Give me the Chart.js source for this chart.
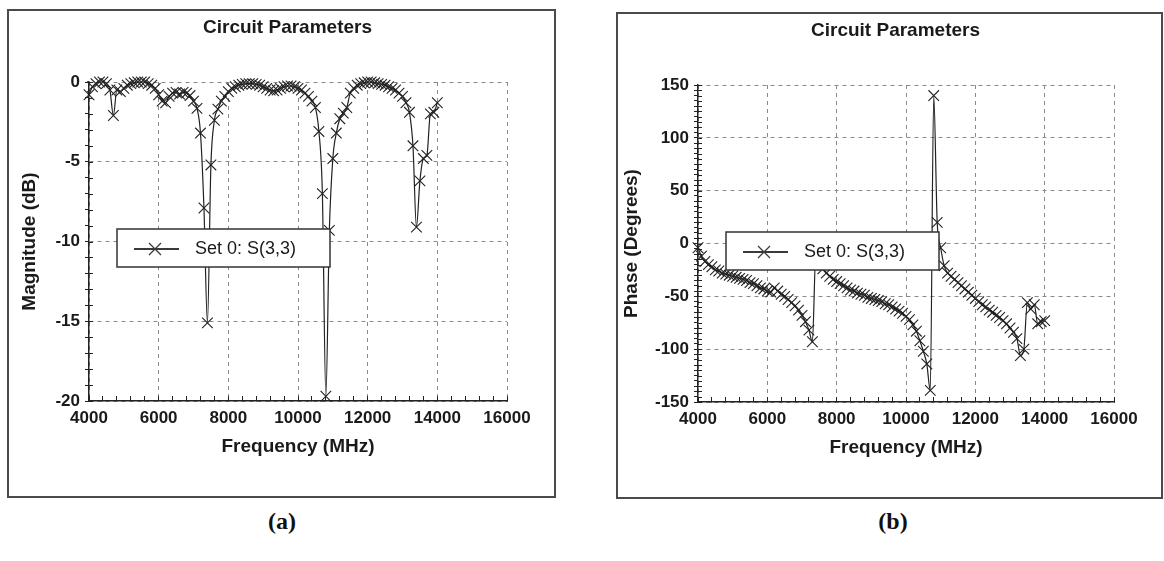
<!DOCTYPE html>
<html>
<head>
<meta charset="utf-8">
<script src="https://cdn.jsdelivr.net/npm/chart.js@4.4.1/dist/chart.umd.min.js"></script>
<style>
  body { margin: 0; background: #fff; width: 1164px; height: 561px; position: relative; overflow: hidden; }
  .panel { position: absolute; border: 2px solid #4a4a4a; background: #fff; }
  #pa { left: 7px; top: 9px; width: 545px; height: 485px; }
  #pb { left: 616px; top: 12px; width: 543px; height: 483px; }
  .cap { position: absolute; top: 508px; font: bold 24px "Liberation Serif", "Times New Roman", serif; color: #111; transform: translateX(-50%); }
</style>
</head>
<body>
<div class="panel" id="pa"><canvas id="magChart" width="545" height="485"></canvas></div>
<div class="panel" id="pb"><canvas id="phaseChart" width="543" height="483"></canvas></div>
<div class="cap" style="left:282px">(a)</div>
<div class="cap" style="left:893px">(b)</div>
<script>
// frequency sweep (MHz)
const freqs = [
  4000, 4100, 4200, 4300, 4400, 4500, 4600, 4700, 4800, 4900,
  5000, 5100, 5200, 5300, 5400, 5500, 5600, 5700, 5800, 5900,
  6000, 6100, 6200, 6300, 6400, 6500, 6600, 6700, 6800, 6900,
  7000, 7100, 7200, 7300, 7400, 7500, 7600, 7700, 7800, 7900,
  8000, 8100, 8200, 8300, 8400, 8500, 8600, 8700, 8800, 8900,
  9000, 9100, 9200, 9300, 9400, 9500, 9600, 9700, 9800, 9900,
  10000, 10100, 10200, 10300, 10400, 10500, 10600, 10700, 10800, 10900,
  11000, 11100, 11200, 11300, 11400, 11500, 11600, 11700, 11800, 11900,
  12000, 12100, 12200, 12300, 12400, 12500, 12600, 12700, 12800, 12900,
  13000, 13100, 13200, 13300, 13400, 13500, 13600, 13700, 13800, 13900,
  14000
];

// S(3,3) magnitude (dB)
const magnitudeDb = [
  -0.8, -0.3, -0.1, 0.0, 0.0, -0.1, -0.5, -2.1, -0.5, -0.6,
  -0.4, -0.2, -0.1, -0.05, 0.0, 0.0, 0.0, -0.1, -0.2, -0.4,
  -0.8, -1.2, -1.3, -0.9, -0.7, -0.65, -0.75, -0.65, -0.7, -0.85,
  -1.2, -1.65, -3.2, -7.9, -15.1, -5.2, -2.4, -1.7, -1.2, -0.9,
  -0.6, -0.4, -0.3, -0.2, -0.15, -0.1, -0.1, -0.1, -0.15, -0.2,
  -0.3, -0.4, -0.5, -0.55, -0.5, -0.4, -0.3, -0.25, -0.25, -0.3,
  -0.4, -0.5, -0.7, -0.9, -1.2, -1.6, -3.1, -7.0, -19.7, -9.3,
  -4.8, -3.2, -2.3, -1.95, -1.6, -0.7, -0.4, -0.2, -0.1, -0.05,
  0.0, 0.0, -0.05, -0.1, -0.15, -0.2, -0.3, -0.4, -0.5, -0.7,
  -0.9, -1.3, -1.9, -4.0, -9.1, -6.2, -4.8, -4.6, -2.0, -1.9,
  -1.3
];

// S(3,3) phase (degrees)
const phaseDeg = [
  -4, -12, -17, -20, -22, -25, -26, -28, -29, -30,
  -31, -32, -33, -34, -35, -37, -38, -40, -42, -43,
  -45, -46, -42, -45, -48, -50, -53, -56, -59, -63,
  -68, -74, -82, -93, -8, -18, -24, -28, -31, -34,
  -36, -38, -40, -42, -44, -45, -47, -48, -49, -51,
  -52, -53, -54, -55, -57, -58, -60, -62, -64, -66,
  -69, -72, -77, -83, -92, -102, -114, -139, 140, 20,
  -4, -21, -28, -31, -34, -37, -40, -43, -46, -49,
  -52, -55, -58, -60, -63, -65, -68, -70, -73, -76,
  -80, -84, -90, -106, -100, -56, -62, -58, -76, -74,
  -73
];

const seriesLabel = 'Set 0: S(3,3)';
const chartTitle = 'Circuit Parameters';

Chart.defaults.font.family = '"Liberation Sans", Arial, sans-serif';
Chart.defaults.color = '#1a1a1a';

// panel title, centred a little right of the canvas middle as in the original
const panelTitle = {
  id: 'panelTitle',
  afterDraw(chart, args, opts) {
    const { ctx } = chart;
    ctx.save();
    ctx.fillStyle = '#1a1a1a';
    ctx.font = 'bold 19px "Liberation Sans", Arial, sans-serif';
    ctx.textAlign = 'center';
    ctx.textBaseline = 'middle';
    ctx.fillText(opts.text, chart.width / 2 + 6, opts.y);
    ctx.restore();
  }
};

// short tick marks on the inner side of the y axis (they cross the axis in the original)
const innerYTicks = {
  id: 'innerYTicks',
  afterDraw(chart) {
    const { ctx } = chart;
    const y = chart.scales.y;
    ctx.save();
    ctx.strokeStyle = '#222';
    ctx.lineWidth = 1;
    y.ticks.forEach(t => {
      const py = Math.round(y.getPixelForValue(t.value)) + 0.5;
      ctx.beginPath();
      ctx.moveTo(y.right, py);
      ctx.lineTo(y.right + 4, py);
      ctx.stroke();
    });
    ctx.restore();
  }
};

// legend box drawn inside the plot, like the original software
const legendBox = {
  id: 'legendBox',
  afterDatasetsDraw(chart, args, opts) {
    const { ctx, chartArea } = chart;
    const x = chartArea.left + opts.dx, y = chartArea.top + opts.dy;
    const w = 213, h = 38;
    ctx.save();
    ctx.fillStyle = '#fff';
    ctx.fillRect(x, y, w, h);
    ctx.strokeStyle = '#333';
    ctx.lineWidth = 1.5;
    ctx.strokeRect(x, y, w, h);
    ctx.strokeStyle = '#3a3a3a';
    ctx.lineWidth = 2;
    ctx.beginPath();
    ctx.moveTo(x + 17, y + 20);
    ctx.lineTo(x + 62, y + 20);
    ctx.stroke();
    const cx = x + 38, cy = y + 20, r = 6;
    ctx.lineWidth = 1.3;
    ctx.beginPath();
    ctx.moveTo(cx - r, cy - r); ctx.lineTo(cx + r, cy + r);
    ctx.moveTo(cx + r, cy - r); ctx.lineTo(cx - r, cy + r);
    ctx.stroke();
    ctx.fillStyle = '#1a1a1a';
    ctx.font = '18px "Liberation Sans", Arial, sans-serif';
    ctx.textBaseline = 'middle';
    ctx.fillText(chart.data.datasets[0].label, x + 78, y + 20);
    ctx.restore();
  }
};

function makeChart(id, ys, yTitle, yMin, yMax, yStep, yMajor, yTitlePad) {
  const points = freqs.map((f, i) => ({ x: f, y: ys[i] }));
  return new Chart(document.getElementById(id), {
    type: 'scatter',
    data: {
      datasets: [{
        label: seriesLabel,
        data: points,
        showLine: true,
        borderColor: '#222',
        borderWidth: 1.2,
        cubicInterpolationMode: 'monotone',
        pointStyle: 'crossRot',
        pointRadius: 7.5,
        pointBorderWidth: 1.1,
        pointBorderColor: '#222',
        pointBackgroundColor: '#222',
        clip: false
      }]
    },
    options: {
      responsive: false,
      animation: false,
      events: [],
      layout: { padding: { left: 0, right: 47, top: 71, bottom: 0 } },
      plugins: {
        legend: { display: false },
        tooltip: { enabled: false },
        title: { display: false },
        panelTitle: { text: chartTitle, y: 17 },
        legendBox: { dx: 28, dy: 147 }
      },
      scales: {
        x: {
          type: 'linear',
          min: 4000, max: 16000,
          afterFit: s => { s.height = 95; },
          ticks: {
            stepSize: 400,
            autoSkip: false,
            maxRotation: 0,
            padding: 12,
            color: '#1a1a1a',
            font: { size: 17, weight: 'bold' },
            callback: v => (v % 2000 === 0 ? String(v) : '')
          },
          grid: {
            color: c => (c.tick && c.tick.value % 2000 === 0 ? '#8a8a8a' : 'transparent'),
            tickColor: '#222',
            tickLength: -5,
            lineWidth: 1
          },
          border: { display: true, color: '#222', width: 1.5, dash: [4, 4] },
          title: {
            display: true,
            text: 'Frequency (MHz)',
            color: '#1a1a1a',
            font: { size: 19, weight: 'bold' },
            padding: { top: 0, bottom: 38 }
          }
        },
        y: {
          type: 'linear',
          min: yMin, max: yMax,
          afterFit: s => { s.width = 80; },
          ticks: {
            stepSize: yStep,
            autoSkip: false,
            padding: 5,
            color: '#1a1a1a',
            font: { size: 17, weight: 'bold' },
            callback: v => (v % yMajor === 0 ? String(v) : '')
          },
          grid: {
            color: c => (c.tick && c.tick.value % yMajor === 0 ? '#8a8a8a' : 'transparent'),
            tickColor: '#222',
            tickLength: 4,
            lineWidth: 1
          },
          border: { display: true, color: '#222', width: 1.5, dash: [4, 4] },
          title: {
            display: true,
            text: yTitle,
            color: '#1a1a1a',
            font: { size: 19, weight: 'bold' },
            padding: { top: yTitlePad, bottom: 0 }
          }
        }
      }
    },
    plugins: [legendBox, innerYTicks, panelTitle]
  });
}

makeChart('magChart', magnitudeDb, 'Magnitude (dB)', -20, 0, 1, 5, 9);
makeChart('phaseChart', phaseDeg, 'Phase (Degrees)', -150, 150, 5, 50, 2);
</script>
</body>
</html>
